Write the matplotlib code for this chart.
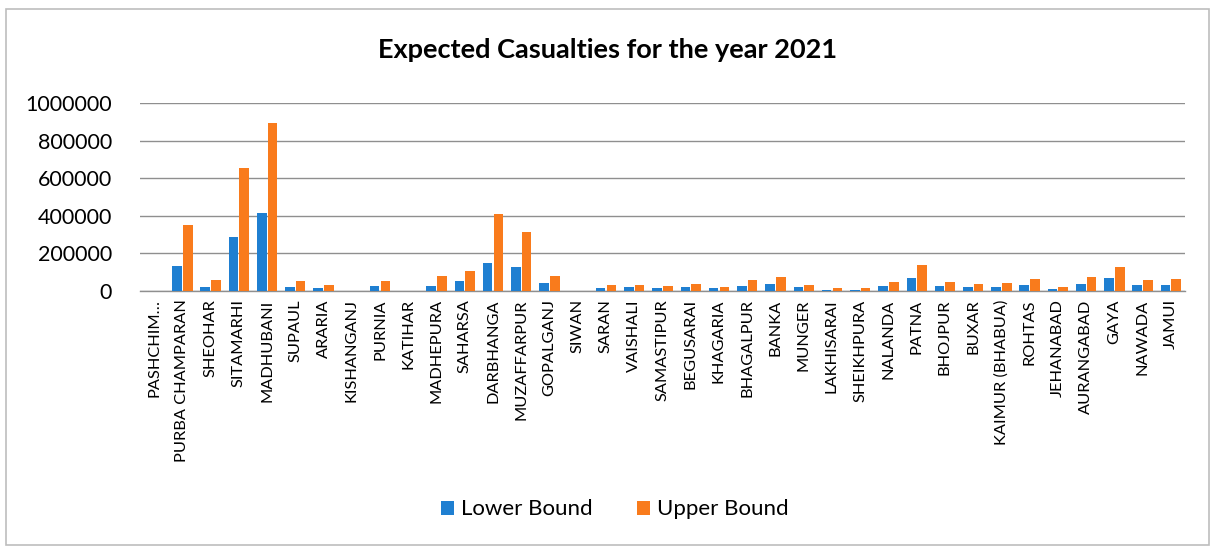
import matplotlib
matplotlib.use("Agg")
import matplotlib.pyplot as plt
from matplotlib.patches import Rectangle
import numpy as np

plt.rcParams['font.family'] = ['Lato', 'DejaVu Sans']

districts = ["PASHCHIM…", "PURBA CHAMPARAN", "SHEOHAR", "SITAMARHI", "MADHUBANI", "SUPAUL",
             "ARARIA", "KISHANGANJ", "PURNIA", "KATIHAR", "MADHEPURA", "SAHARSA", "DARBHANGA",
             "MUZAFFARPUR", "GOPALGANJ", "SIWAN", "SARAN", "VAISHALI", "SAMASTIPUR", "BEGUSARAI",
             "KHAGARIA", "BHAGALPUR", "BANKA", "MUNGER", "LAKHISARAI", "SHEIKHPURA", "NALANDA",
             "PATNA", "BHOJPUR", "BUXAR", "KAIMUR (BHABUA)", "ROHTAS", "JEHANABAD", "AURANGABAD",
             "GAYA", "NAWADA", "JAMUI"]

lower_bound = [0, 135000, 24000, 289000, 416000, 22000, 16000, 0, 26000, 0, 28000, 55000, 147000,
               127000, 43000, 0, 17000, 19000, 15000, 21000, 14000, 28000, 40000, 19000, 8000, 8000,
               27000, 70000, 25000, 20000, 20000, 30000, 12000, 37000, 68000, 33000, 33000]

upper_bound = [0, 352000, 60000, 654000, 893000, 52000, 30000, 0, 55000, 0, 78000, 108000, 410000,
               316000, 78000, 0, 31000, 33000, 25000, 38000, 22000, 56000, 73000, 30000, 16000, 14000,
               50000, 136000, 49000, 37000, 43000, 63000, 24000, 73000, 129000, 61000, 63000]

y_ticks = [0, 200000, 400000, 600000, 800000, 1000000]

blue = '#1F7FD1'
orange = '#F97B1C'

fig = plt.figure(figsize=(12.15, 5.49), dpi=100)
ax = fig.add_axes([0.1152, 0.4699, 0.8601, 0.3425])

x = np.arange(len(districts))
w = 0.34
ax.bar(x - 0.19, lower_bound, width=w, color=blue, label='Lower Bound', zorder=3)
ax.bar(x + 0.19, upper_bound, width=w, color=orange, label='Upper Bound', zorder=3)

ax.set_xlim(-0.5, len(districts) - 0.5)
ax.set_ylim(0, 1000000)
ax.set_yticks(y_ticks)
ax.set_yticklabels([str(v) for v in y_ticks], fontsize=15.5)
ax.set_xticks(x)
ax.set_xticklabels(districts, rotation=90, fontsize=11.8)
ax.tick_params(axis='y', length=0, pad=20)
ax.tick_params(axis='x', length=0, pad=6)
ax.yaxis.grid(True, color='#8f8f8f', linewidth=1.0, zorder=0)
for s in ['top', 'right', 'left']:
    ax.spines[s].set_visible(False)
ax.spines['bottom'].set_color('#8f8f8f')
ax.spines['bottom'].set_linewidth(1.0)

fig.text(0.5, 0.909, 'Expected Casualties for the year 2021', ha='center', va='center',
         fontsize=19.5, fontweight='bold')

fig.legend(loc='center', bbox_to_anchor=(0.506, 0.072), ncol=2, frameon=False, fontsize=16,
           handlelength=0.6, handleheight=0.6, handletextpad=0.3, columnspacing=2.0)

fig.patches.append(Rectangle((0.005, 0.008), 0.99, 0.975, transform=fig.transFigure,
                             fill=False, edgecolor='#bdbdbd', linewidth=1.2))

fig.savefig('out.png', dpi=100, facecolor='white')
